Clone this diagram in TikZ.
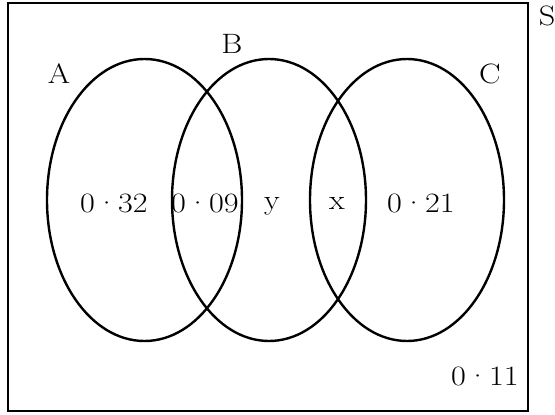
\documentclass[tikz,border=0pt]{standalone}
\usepackage{fontspec}
\setmainfont{Latin Modern Roman}
\newcommand{\wide}[1]{\scalebox{1.15}[1]{#1}}
\begin{document}
\begin{tikzpicture}[x=1pt,y=-1pt,
  lbl/.style={font=\fontsize{28}{32}\selectfont, inner sep=0pt},
  setline/.style={line width=2.4pt},
  frame/.style={line width=2pt}]
\useasboundingbox (0,0) rectangle (555,415);
\draw[frame] (8,3) rectangle (528,411);
\draw[setline] (144.5,200) ellipse [x radius=97.5, y radius=141];
\draw[setline] (269,200) ellipse [x radius=97, y radius=141];
\draw[setline] (407,200) ellipse [x radius=97, y radius=141];
\node[lbl] (S) at (547,16) {\wide{S}};
\node[lbl] (A) at (59,74) {\wide{A}};
\node[lbl] (B) at (232,44) {\wide{B}};
\node[lbl] (C) at (490,74) {\wide{C}};
\node[lbl] (a) at (114,203) {\wide{0·32}};
\node[lbl] (ab) at (205,203) {\wide{0·09}};
\node[lbl] (b) at (272,206) {\wide{y}};
\node[lbl] (bc) at (337,203) {\wide{x}};
\node[lbl] (c) at (421,203) {\wide{0·21}};
\node[lbl] (s) at (485,376) {\wide{0·11}};
\end{tikzpicture}
\end{document}
